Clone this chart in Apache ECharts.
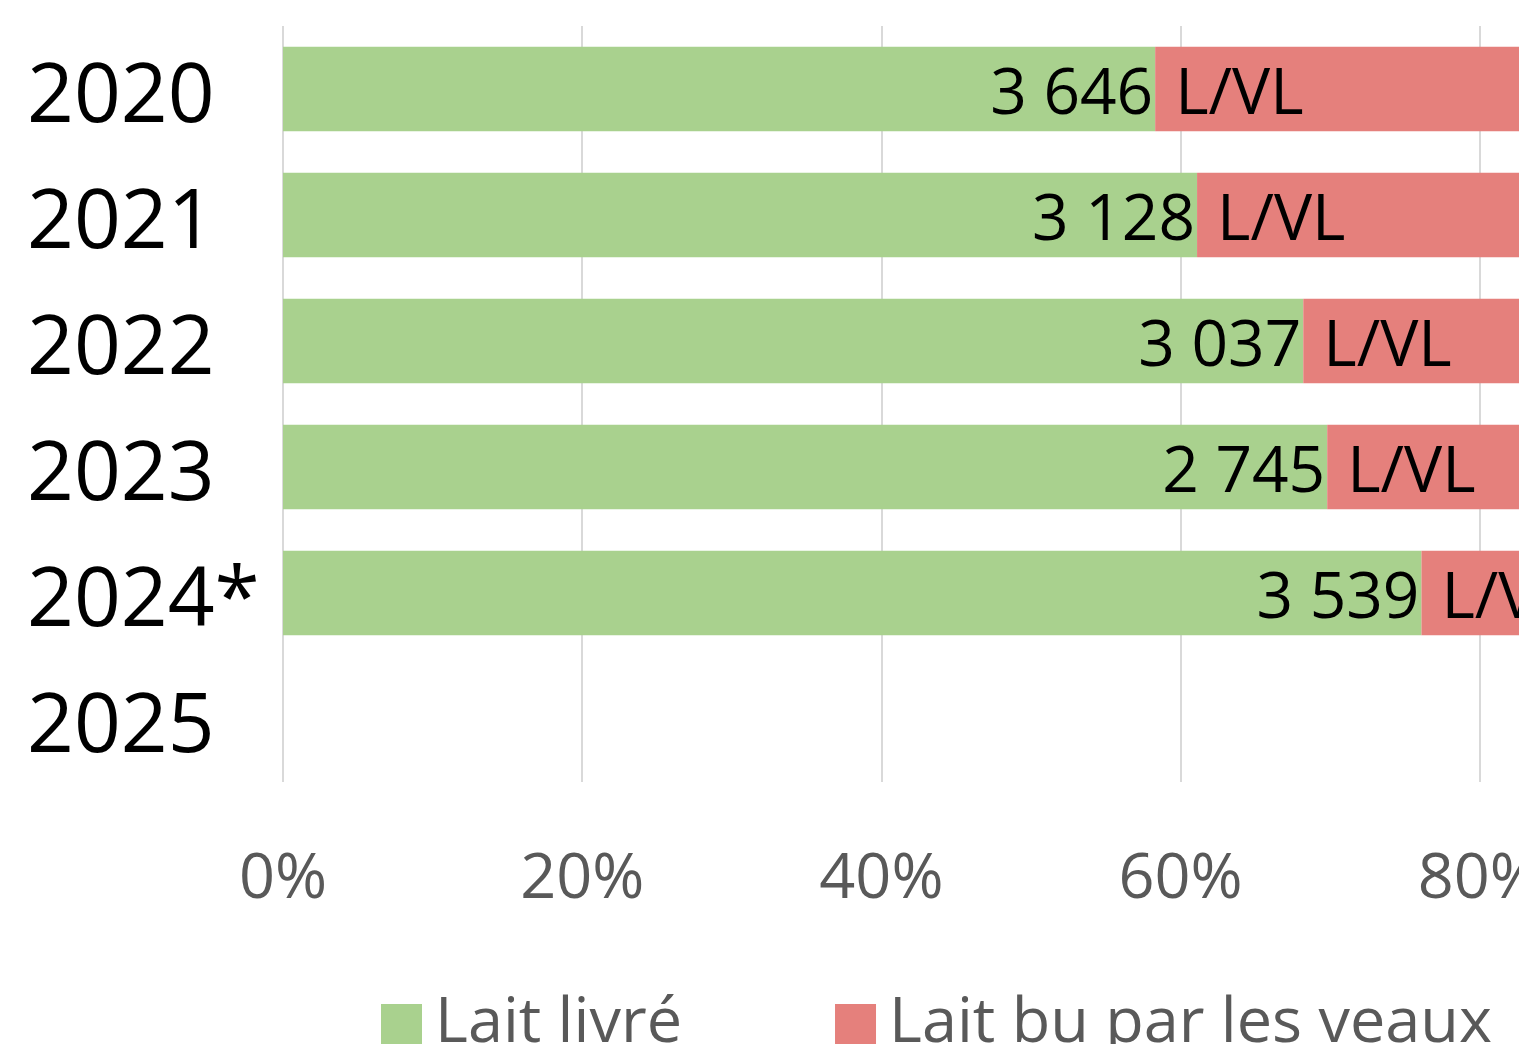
<!DOCTYPE html>
<html>
<head>
<meta charset="utf-8">
<script src="https://cdn.jsdelivr.net/npm/echarts@6/dist/echarts.min.js"></script>
<style>
  html, body { margin: 0; padding: 0; background: #fff; }
  #chart { width: 1519px; height: 1044px; }
</style>
</head>
<body>
<div id="chart"></div>
<script>
const years = ['2020', '2021', '2022', '2023', '2024*', '2025']
// part du lait livré (%), le reste = lait bu par les veaux
const laitLivre = [58.3, 61.1, 68.2, 69.8, 76.1, null]
const laitVeaux = [41.7, 38.9, 31.8, 30.2, 23.9, null]
const litresLabels = ['3 646', '3 128', '3 037', '2 745', '3 539', '']
const xTicks = [0, 20, 40, 60, 80, 100]

const font = "'Open Sans', sans-serif"
const chart = echarts.init(document.getElementById('chart'))

const option = {
  animation: false,
  textStyle: { fontFamily: font },
  grid: { left: 283, top: 26, width: 1496, height: 756, outerBoundsMode: 'none', containLabel: false },
  legend: {
    left: 376,
    top: 988,
    itemWidth: 41,
    itemHeight: 41,
    itemGap: 153,
    icon: 'rect',
    textStyle: { fontSize: 63, color: '#595959', fontFamily: font, padding: [0, 0, 0, 8] },
    data: ['Lait livré', 'Lait bu par les veaux'],
  },
  xAxis: {
    type: 'value',
    min: xTicks[0],
    max: xTicks[xTicks.length - 1],
    interval: 20,
    axisLine: { show: false },
    axisTick: { show: false },
    axisLabel: { formatter: '{value}%', fontSize: 63, color: '#595959', margin: 67, fontFamily: font },
    splitLine: { show: true, lineStyle: { color: '#d9d9d9', width: 2 } },
  },
  yAxis: {
    type: 'category',
    inverse: true,
    data: years,
    axisLine: { show: false },
    axisTick: { show: false },
    axisLabel: {
      fontSize: 82, color: '#000', align: 'left', margin: 256,
      verticalAlign: 'top', lineHeight: 20, fontFamily: font,
    },
  },
  series: [
    {
      name: 'Lait livré',
      type: 'bar',
      stack: 'total',
      barCategoryGap: '33%',
      itemStyle: { color: '#a9d18e' },
      data: laitLivre,
      label: {
        show: true,
        position: 'insideRight',
        distance: 2,
        offset: [0, 7],
        fontSize: 64,
        color: '#000',
        fontFamily: font,
        formatter: p => litresLabels[p.dataIndex],
      },
    },
    {
      name: 'Lait bu par les veaux',
      type: 'bar',
      stack: 'total',
      itemStyle: { color: '#e5807c' },
      data: laitVeaux,
      label: {
        show: true,
        position: 'insideLeft',
        distance: 20,
        offset: [0, 7],
        fontSize: 64,
        color: '#000',
        fontFamily: font,
        formatter: p => (litresLabels[p.dataIndex] ? 'L/VL' : ''),
      },
    },
  ],
}

chart.setOption(option)
</script>
</body>
</html>
